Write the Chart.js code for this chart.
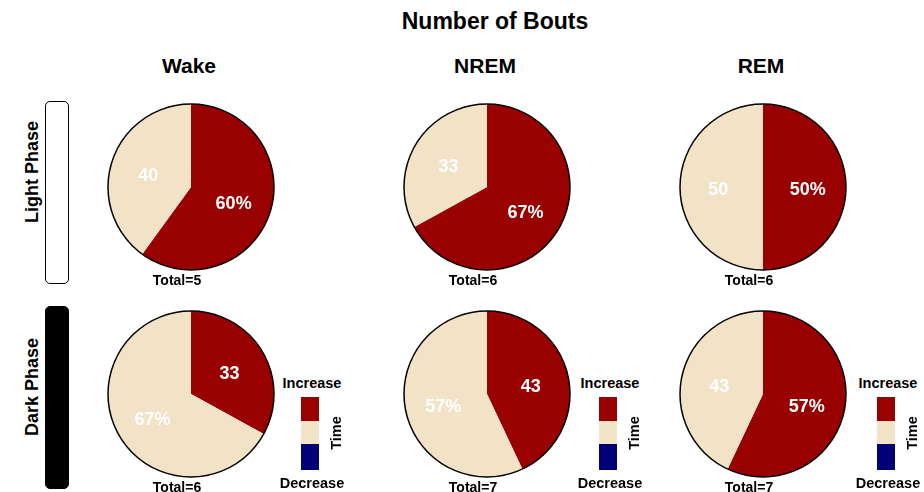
<!DOCTYPE html>
<html>
<head>
<meta charset="utf-8">
<script src="https://cdn.jsdelivr.net/npm/chart.js@4"></script>
<style>
  body { margin: 0; background: #fff; }
  #wrap { position: relative; width: 924px; height: 492px; overflow: hidden;
          font-family: "Liberation Sans", Arial, sans-serif; font-weight: bold; color: #000; }
  .txt { position: absolute; white-space: nowrap; transform: translate(-50%, -50%); }
  .rot { position: absolute; white-space: nowrap; transform: translate(-50%, -50%) rotate(-90deg); }
  .box { position: absolute; box-sizing: border-box; border: 1.5px solid #000; border-radius: 5px; }
  .pie { position: absolute; }
  .seg { position: absolute; }
</style>
</head>
<body>
<div id="wrap"></div>
<script>
// Données
const titre = 'Number of Bouts';
const colonnes = ['Wake', 'NREM', 'REM'];
const phases = ['Light Phase', 'Dark Phase'];
// % de bouts en hausse (rouge) / baisse (beige), ligne = phase, colonne = état
const hausse = [[60, 67, 50], [33, 43, 57]];
const baisse = [[40, 33, 50], [67, 57, 43]];
const etiquettesHausse = [['60%', '67%', '50%'], ['33', '43', '57%']];
const etiquettesBaisse = [['40', '33', '50'], ['67%', '57%', '43']];
const totaux = [[5, 6, 6], [6, 7, 7]];
const legendeTextes = ['Increase', 'Time', 'Decrease'];

const COULEURS = { hausse: '#990000', baisse: '#F2E3C6', bas: '#000077' };

// Mise en page
const centresX = [191, 487, 763];
const centresY = [187, 394];
const RAYON = 83;
const PAD = 7;

const wrap = document.getElementById('wrap');

function ajouterTexte(txt, x, y, taille, rot) {
    const d = document.createElement('div');
    d.className = rot ? 'rot' : 'txt';
    d.style.left = x + 'px';
    d.style.top = y + 'px';
    d.style.fontSize = taille + 'px';
    d.textContent = txt;
    wrap.appendChild(d);
}

// Plugin : contour noir + étiquettes blanches dans les parts
const piePlugin = {
    id: 'pieDecor',
    afterDatasetsDraw(chart) {
        const ctx = chart.ctx;
        const meta = chart.getDatasetMeta(0);
        const labels = chart.options.plugins.pieDecor.labels;
        const arc0 = meta.data[0];
        ctx.save();
        ctx.beginPath();
        ctx.arc(arc0.x, arc0.y, arc0.outerRadius, 0, Math.PI * 2);
        ctx.lineWidth = 1.5;
        ctx.strokeStyle = '#000';
        ctx.stroke();
        ctx.fillStyle = '#fff';
        ctx.font = 'bold 18px "Liberation Sans", Arial, sans-serif';
        ctx.textAlign = 'center';
        ctx.textBaseline = 'middle';
        meta.data.forEach((arc, i) => {
            const mid = (arc.startAngle + arc.endAngle) / 2;
            const r = arc.outerRadius * 0.54;
            ctx.fillText(labels[i], arc.x + Math.cos(mid) * r, arc.y + Math.sin(mid) * r + 3);
        });
        ctx.restore();
    }
};

// Titre et en-têtes
ajouterTexte(titre, 495, 21, 23);
colonnes.forEach((c, j) => ajouterTexte(c, centresX[j] - 2, 66, 21));

// Étiquettes des phases avec leurs boîtes
phases.forEach((p, i) => {
    const b = document.createElement('div');
    b.className = 'box';
    b.style.left = '45px';
    b.style.width = '24px';
    b.style.top = (i === 0 ? 101 : 306) + 'px';
    b.style.height = '183px';
    if (i === 1) b.style.background = '#000';
    wrap.appendChild(b);
    ajouterTexte(p, 32, i === 0 ? 172 : 387, 18, true);
});

// Camemberts
phases.forEach((p, i) => {
    colonnes.forEach((c, j) => {
        const taille = (RAYON + PAD) * 2;
        const cv = document.createElement('canvas');
        cv.className = 'pie';
        cv.width = taille;
        cv.height = taille;
        cv.style.left = (centresX[j] - taille / 2) + 'px';
        cv.style.top = (centresY[i] - taille / 2) + 'px';
        cv.style.width = taille + 'px';
        cv.style.height = taille + 'px';
        wrap.appendChild(cv);

        new Chart(cv, {
            type: 'pie',
            data: {
                labels: ['Increase', 'Decrease'],
                datasets: [{
                    data: [hausse[i][j], baisse[i][j]],
                    backgroundColor: [COULEURS.hausse, COULEURS.baisse],
                    borderWidth: 0,
                    hoverOffset: 0,
                    offset: 0
                }]
            },
            options: {
                responsive: false,
                animation: false,
                events: [],
                layout: { padding: PAD },
                plugins: {
                    legend: { display: false },
                    tooltip: { enabled: false },
                    pieDecor: { labels: [etiquettesHausse[i][j], etiquettesBaisse[i][j]] }
                }
            },
            plugins: [piePlugin]
        });

        ajouterTexte('Total=' + totaux[i][j], centresX[j] - 14, centresY[i] + RAYON + 10, 14);
    });
});

// Légendes (rangée du bas)
const legendeX = [310, 608, 886];
legendeX.forEach(x => {
    ajouterTexte(legendeTextes[0], x + 2, 383, 14.5);
    const segs = [[397, 24, COULEURS.hausse], [421, 23, COULEURS.baisse], [444, 26, COULEURS.bas]];
    segs.forEach(s => {
        const d = document.createElement('div');
        d.className = 'seg';
        d.style.left = (x - 9) + 'px';
        d.style.width = '18px';
        d.style.top = s[0] + 'px';
        d.style.height = s[1] + 'px';
        d.style.background = s[2];
        wrap.appendChild(d);
    });
    ajouterTexte(legendeTextes[1], x + 26, 433, 14.5, true);
    ajouterTexte(legendeTextes[2], x + 2, 483, 14.5);
});
</script>
</body>
</html>
